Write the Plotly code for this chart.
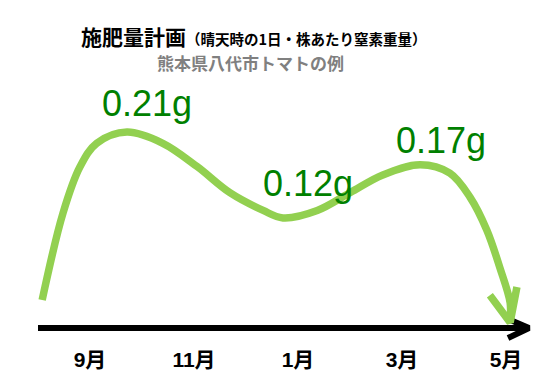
import plotly.graph_objects as go

# ---- data (months after September, grams of nitrogen per plant per day) ----
curve_month = [-0.92, -0.52, -0.19, 0.13, 0.71, 1.40, 2.06, 2.69, 3.33, 3.71,
               4.37, 5.00, 5.63, 6.35, 6.92, 7.31, 7.63, 7.88, 8.08, 8.08]
curve_gram = [0.030, 0.123, 0.173, 0.198, 0.210, 0.198, 0.173, 0.145, 0.126, 0.118,
              0.126, 0.145, 0.164, 0.175, 0.166, 0.140, 0.105, 0.065, 0.027, 0.009]
head_month = [7.69, 8.08, 8.21]
head_gram = [0.035, 0.006, 0.044]
tick_month = [0, 2, 4, 6, 8]
tick_text = ["9月", "11月", "1月", "3月", "5月"]
label_values = [0.21, 0.12, 0.17]
label_month = [1.10, 4.20, 6.75]

W, H = 555, 376
MB = 31
PX_PER_MONTH = 52.0
X0_PX = 90.0          # pixel of month 0
PX_PER_G = 933.0
Y0_PX = 328.0         # pixel of 0 g
PLOT_H = H - MB

x_range = [(0 - X0_PX) / PX_PER_MONTH, (W - X0_PX) / PX_PER_MONTH]
y_range = [(Y0_PX - PLOT_H) / PX_PER_G, Y0_PX / PX_PER_G]

GREEN_LINE = "#92D050"
GREEN_TEXT = "#008000"
CJK = "Noto Sans CJK JP"

fig = go.Figure()

# black time axis arrow
ax_start = (38 - X0_PX) / PX_PER_MONTH
ax_tip = (529 - X0_PX) / PX_PER_MONTH
arm_x = (508 - X0_PX) / PX_PER_MONTH
fig.add_trace(go.Scatter(
    x=[ax_start, ax_tip, None, arm_x, ax_tip, arm_x],
    y=[0, 0, None, 9 / PX_PER_G, 0, -10 / PX_PER_G],
    mode="lines", line=dict(color="black", width=6), hoverinfo="skip",
    showlegend=False))

# green curve
fig.add_trace(go.Scatter(
    x=curve_month, y=curve_gram, mode="lines",
    line=dict(color=GREEN_LINE, width=7.5, shape="spline", smoothing=1.0),
    hoverinfo="skip", showlegend=False))
fig.add_trace(go.Scatter(
    x=head_month, y=head_gram, mode="lines",
    line=dict(color=GREEN_LINE, width=7.5), hoverinfo="skip", showlegend=False))

# value labels
label_offsets = [(0.21 - 0.241), (0.12 - 0.155), (0.17 - 0.201)]
for v, m, off in zip(label_values, label_month, label_offsets):
    fig.add_annotation(x=m, y=v - off, xref="x", yref="y", text=f"{v:.2f}g",
                       showarrow=False, xanchor="center", yanchor="middle",
                       font=dict(family="Liberation Sans, Arial", size=36, color=GREEN_TEXT))

# titles
def py(p):
    return (PLOT_H - p) / PLOT_H

fig.add_annotation(x=79 / W, y=py(36), xref="paper", yref="paper", xanchor="left",
                   yanchor="middle", showarrow=False,
                   text="<b>施肥量計画</b><span style='font-size:14.5px'><b>（晴天時の1日・株あたり窒素重量）</b></span>",
                   font=dict(family=CJK, size=21, color="black"))
fig.add_annotation(x=250 / W, y=py(62), xref="paper", yref="paper", xanchor="center",
                   yanchor="middle", showarrow=False,
                   text="<b>熊本県八代市トマトの例</b>",
                   font=dict(family=CJK, size=17, color="#808080"))

fig.update_layout(
    width=W, height=H, margin=dict(l=0, r=0, t=0, b=MB),
    paper_bgcolor="white", plot_bgcolor="white",
    xaxis=dict(range=x_range, showgrid=False, zeroline=False, showline=False,
               tickmode="array", tickvals=tick_month, ticktext=tick_text, ticks="",
               tickfont=dict(family="Liberation Sans, " + CJK, size=21, color="black", weight="bold"),
               fixedrange=True),
    yaxis=dict(range=y_range, showgrid=False, zeroline=False, showline=False,
               showticklabels=False, fixedrange=True),
)

fig.write_html("out.html", config={"displayModeBar": False},
               post_script="document.body.style.margin='0';")
